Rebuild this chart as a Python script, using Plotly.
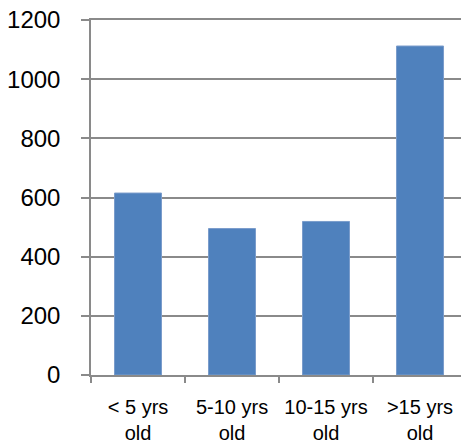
import plotly.graph_objects as go

categories = ["< 5 yrs<br>old", "5-10 yrs<br>old", "10-15 yrs<br>old", ">15 yrs<br>old"]
values = [615, 495, 519, 1112]
y_ticks = [0, 200, 400, 600, 800, 1000, 1200]

grid = "#8a8a8a"
fig = go.Figure(go.Bar(
    x=categories, y=values, width=0.5,
    marker=dict(color="#4F81BD", line=dict(color="#7A9CCB", width=1)),
))
fig.update_layout(
    width=461, height=445,
    margin=dict(l=91, r=0, t=20, b=70, autoexpand=False),
    paper_bgcolor="white", plot_bgcolor="white",
    font=dict(family="Liberation Sans, Arial, sans-serif", color="black"),
    showlegend=False,
    bargap=0.5,
)
fig.update_xaxes(
    range=[-0.5, 3.436], showline=True, mirror=True, linecolor=grid, linewidth=1.5,
    ticks="outside", tickson="boundaries", ticklen=6, tickcolor=grid, tickwidth=1.5,
    tickfont=dict(size=20), showgrid=False, fixedrange=True, ticklabelstandoff=13,
)
fig.update_yaxes(
    range=[0, 1200], tickvals=y_ticks, showline=True, linecolor=grid, linewidth=1.5,
    ticks="outside", ticklen=8, tickcolor=grid, tickwidth=1.5,
    tickfont=dict(size=24), showgrid=True, gridcolor=grid, gridwidth=1.5,
    zeroline=False, ticklabelstandoff=16, ticklabeloverflow="allow",
)
fig.write_html("out.html", config={"displayModeBar": False},
               post_script="document.body.style.margin='0';")
